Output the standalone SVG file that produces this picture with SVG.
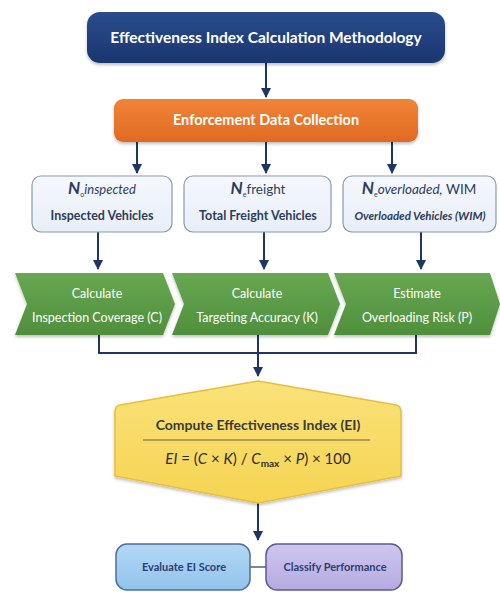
<svg xmlns="http://www.w3.org/2000/svg" width="500" height="592" viewBox="0 0 500 592">
<defs>
<linearGradient id="gNavy" x1="0" y1="0" x2="0" y2="1"><stop offset="0" stop-color="#2a4c8c"/><stop offset="1" stop-color="#1a3670"/></linearGradient>
<linearGradient id="gOrange" x1="0" y1="0" x2="0" y2="1"><stop offset="0" stop-color="#f08437"/><stop offset="1" stop-color="#e06a22"/></linearGradient>
<linearGradient id="gGreen" x1="0" y1="0" x2="0" y2="1"><stop offset="0" stop-color="#68a852"/><stop offset="1" stop-color="#4f8f3c"/></linearGradient>
<linearGradient id="gYellow" x1="0" y1="0" x2="0" y2="1"><stop offset="0" stop-color="#fae27a"/><stop offset="1" stop-color="#f6d452"/></linearGradient>
<linearGradient id="gData" x1="0" y1="0" x2="0" y2="1"><stop offset="0" stop-color="#f5f8fd"/><stop offset="1" stop-color="#e8eef8"/></linearGradient>
<linearGradient id="gBlue" x1="0" y1="0" x2="0" y2="1"><stop offset="0" stop-color="#b3d8f5"/><stop offset="1" stop-color="#92c3ec"/></linearGradient>
<linearGradient id="gPurple" x1="0" y1="0" x2="0" y2="1"><stop offset="0" stop-color="#cfc6ef"/><stop offset="1" stop-color="#b6aae0"/></linearGradient>
<filter id="sh" x="-10%" y="-10%" width="120%" height="130%"><feDropShadow dx="0" dy="2" stdDeviation="1.5" flood-color="#000" flood-opacity="0.25"/></filter>
<marker id="ah" viewBox="0 0 10 10" refX="9" refY="5" markerWidth="10" markerHeight="10" markerUnits="userSpaceOnUse" orient="auto"><path d="M0,0 L10,5 L0,10 z" fill="#1f3566"/></marker>
</defs>
<style>
text{font-family:"Lato","Open Sans","Liberation Sans",sans-serif;}
.conn{stroke:#1f3566;stroke-width:2;fill:none;}
.wt{fill:#fff;font-weight:bold;text-anchor:middle;}
.gt{fill:#fff;font-size:12.5px;text-anchor:middle;}
.dt{fill:#2c3e5c;text-anchor:middle;}
.data{fill:url(#gData);stroke:#8c98aa;stroke-width:1.2;}
.bt{fill:#2a4070;font-size:11px;font-weight:bold;text-anchor:middle;}
</style>

<g id="connectors">
<line class="conn" x1="266" y1="63" x2="266" y2="97" marker-end="url(#ah)"/>
<line class="conn" x1="137" y1="142" x2="137" y2="173" marker-end="url(#ah)"/>
<line class="conn" x1="266" y1="142" x2="266" y2="173" marker-end="url(#ah)"/>
<line class="conn" x1="392" y1="142" x2="392" y2="173" marker-end="url(#ah)"/>
<line class="conn" x1="98" y1="232" x2="98" y2="269" marker-end="url(#ah)"/>
<line class="conn" x1="264" y1="232" x2="264" y2="269" marker-end="url(#ah)"/>
<line class="conn" x1="421" y1="232" x2="421" y2="269" marker-end="url(#ah)"/>
<polyline class="conn" points="99,335 99,353 416,353 416,335"/>
<line class="conn" x1="258" y1="335" x2="258" y2="376" marker-end="url(#ah)"/>
<line class="conn" x1="258" y1="503" x2="258" y2="540" marker-end="url(#ah)"/>
<line x1="250" y1="567" x2="266" y2="567" stroke="#4a5f80" stroke-width="1.5"/>
</g>

<g id="title">
<rect x="87" y="12" width="358" height="51" rx="13" fill="url(#gNavy)" filter="url(#sh)"/>
<text class="wt" x="266" y="43" font-size="15.5">Effectiveness Index Calculation Methodology</text>
</g>

<g id="collection">
<rect x="114" y="99" width="304" height="43" rx="9" fill="url(#gOrange)" filter="url(#sh)"/>
<text class="wt" x="266" y="125" font-size="14.5">Enforcement Data Collection</text>
</g>

<g id="data-inspected">
<rect class="data" x="32" y="176" width="140" height="56" rx="9"/>
<text class="dt" x="102" y="194"><tspan font-size="17" font-weight="bold" font-style="italic">N</tspan><tspan font-size="7" dy="3">o</tspan><tspan font-size="13" font-style="italic" dy="-3">inspected</tspan></text>
<text class="dt" x="102" y="220" font-size="12.5" font-weight="bold">Inspected Vehicles</text>
</g>

<g id="data-freight">
<rect class="data" x="184" y="176" width="147" height="56" rx="9"/>
<text class="dt" x="258" y="194"><tspan font-size="17" font-weight="bold" font-style="italic">N</tspan><tspan font-size="7" dy="3">e</tspan><tspan font-size="13.5" dy="-3">freight</tspan></text>
<text class="dt" x="258" y="220" font-size="12.5" font-weight="bold">Total Freight Vehicles</text>
</g>

<g id="data-overloaded">
<rect class="data" x="343" y="176" width="153" height="56" rx="9"/>
<text class="dt" x="419" y="194"><tspan font-size="17" font-weight="bold" font-style="italic">N</tspan><tspan font-size="7" dy="3">e</tspan><tspan font-size="13.5" font-style="italic" dy="-3">overloaded,</tspan><tspan font-size="13.5"> WIM</tspan></text>
<text class="dt" x="420" y="220" font-size="11.5" font-style="italic" font-weight="bold">Overloaded Vehicles (WIM)</text>
</g>

<g id="calc-coverage">
<polygon points="15,273 163,273 175,304 163,335 15,335 27,304" fill="url(#gGreen)" filter="url(#sh)"/>
<text class="gt" x="97" y="298">Calculate</text>
<text class="gt" x="97" y="322">Inspection Coverage (C)</text>
</g>

<g id="calc-accuracy">
<polygon points="172,273 328,273 340,304 328,335 172,335 184,304" fill="url(#gGreen)" filter="url(#sh)"/>
<text class="gt" x="257" y="298">Calculate</text>
<text class="gt" x="257" y="322">Targeting Accuracy (K)</text>
</g>

<g id="est-risk">
<polygon points="334,273 490,273 500,304 490,335 334,335 346,304" fill="url(#gGreen)" filter="url(#sh)"/>
<text class="gt" x="417" y="298">Estimate</text>
<text class="gt" x="417" y="322">Overloading Risk (P)</text>
</g>

<g id="compute-ei">
<path d="M258,381 L396,405 Q401,406 401,412 L401,476 L258,503 L115,476 L115,412 Q115,406 120,405 Z" fill="url(#gYellow)" stroke="#e8bf3a" stroke-width="1.5" filter="url(#sh)"/>
<text x="258" y="430" font-size="14" font-weight="bold" fill="#3a3a3a" text-anchor="middle">Compute Effectiveness Index (EI)</text>
<line x1="143" y1="440" x2="370" y2="440" stroke="#6b6040" stroke-width="1"/>
<text x="258" y="464" font-size="15" fill="#2e2e2e" text-anchor="middle"><tspan font-style="italic">EI</tspan> = (<tspan font-style="italic">C</tspan> × <tspan font-style="italic">K</tspan>) / <tspan font-style="italic">C</tspan><tspan font-size="10" font-weight="bold" dy="3">max</tspan><tspan dy="-3"> × </tspan><tspan font-style="italic">P</tspan>) × 100</text>
</g>

<g id="evaluate">
<rect x="116" y="544" width="134" height="46" rx="11" fill="url(#gBlue)" stroke="#4f6f98" stroke-width="1.5"/>
<text class="bt" x="184" y="571">Evaluate EI Score</text>
</g>

<g id="classify">
<rect x="266" y="544" width="136" height="46" rx="11" fill="url(#gPurple)" stroke="#5d5a92" stroke-width="1.5"/>
<text class="bt" x="335" y="571">Classify Performance</text>
</g>
</svg>
